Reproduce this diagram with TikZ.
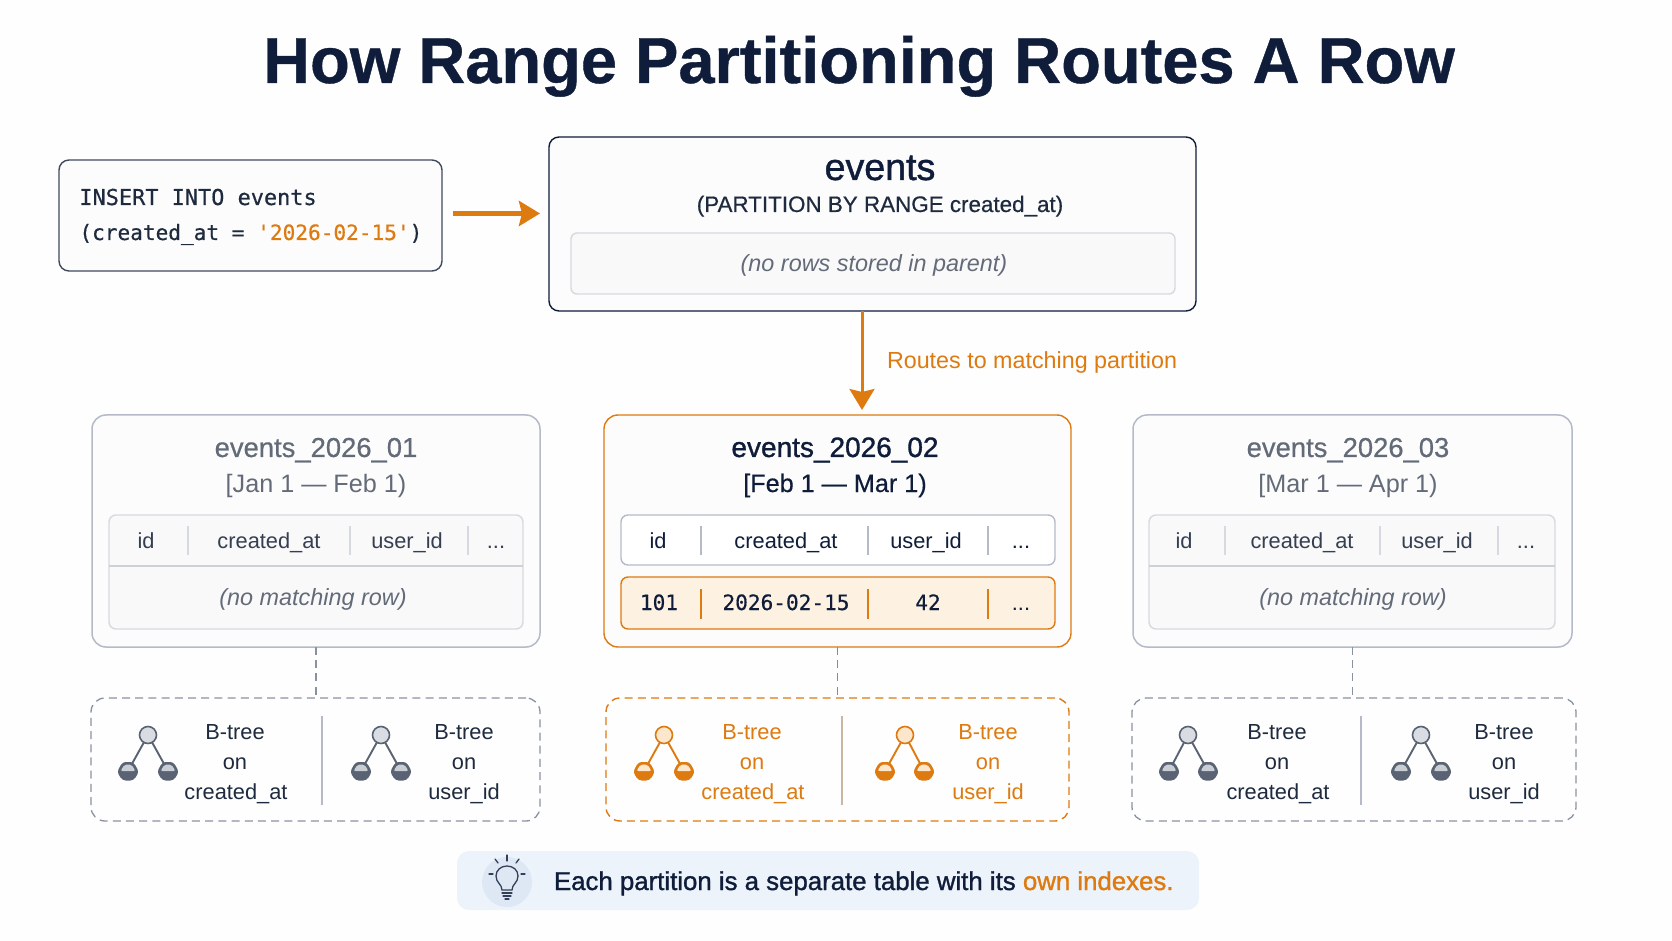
\documentclass[tikz,border=0pt]{standalone}
\usepackage{fontspec}
\usetikzlibrary{arrows.meta,shapes.geometric}
\setmainfont{Liberation Sans}
\newfontfamily\medfont[FakeBold=1.2]{Liberation Sans}
\newfontfamily\lightbold[FakeBold=0.5]{Liberation Sans}
\newfontfamily\titlefont[UprightFont=* Bold,FakeBold=0.6]{Liberation Sans}
\newfontfamily\codefont[FakeBold=0.5]{DejaVu Sans Mono}
\definecolor{navy}{HTML}{0F1D3A}
\definecolor{ink}{HTML}{1E2A3E}
\definecolor{orng}{HTML}{DD7A10}
\definecolor{mute}{HTML}{636B78}
\definecolor{edge}{HTML}{B4BAC8}
\definecolor{soft}{HTML}{D6D9DF}
\definecolor{dash}{HTML}{8A92A2}
\definecolor{page}{HTML}{FEFEFE}
\definecolor{panel}{HTML}{FCFCFD}
\definecolor{well}{HTML}{F9F9FA}
\definecolor{rowfill}{HTML}{FDF2E2}
\definecolor{callout}{HTML}{EDF3FA}
\definecolor{halo}{HTML}{DDE8F4}
\definecolor{darkleaf}{HTML}{5A6373}
\definecolor{lightleaf}{HTML}{C9CDD4}
\definecolor{rootgray}{HTML}{D9DCE2}
\definecolor{rootorng}{HTML}{FCE6CC}
\definecolor{sepo}{HTML}{C9B6A4}
\tikzset{
  x=0.5pt,y=-0.5pt,
  rbox/.style={rectangle,inner sep=0pt,outer sep=0pt,rounded corners=#1},
  rbox/.default=5pt,
  sqlbox/.style={rbox=5pt,draw=ink!85,line width=0.7pt,fill=panel},
  parent/.style={rbox=5pt,draw=navy,line width=0.7pt,fill=panel},
  parentwell/.style={rbox=3pt,draw=soft,line width=0.7pt,fill=well},
  partdim/.style={rbox=7pt,draw=edge,line width=0.75pt,fill=panel},
  parthot/.style={rbox=7pt,draw=orng,line width=0.7pt,fill=panel},
  tabdim/.style={rbox=3.5pt,draw=soft,line width=0.7pt,fill=well},
  tabhead/.style={rbox=3.5pt,draw=edge,line width=0.7pt,fill=white},
  tabrow/.style={rbox=3.5pt,draw=orng,line width=0.7pt,fill=rowfill},
  idxdim/.style={rbox=7pt,draw=dash,line width=0.65pt,dash pattern=on 4pt off 2.6pt},
  idxhot/.style={rbox=7pt,draw=orng,line width=0.7pt,dash pattern=on 4pt off 2.6pt},
  linkdim/.style={draw=dash,line width=0.65pt,dash pattern=on 4pt off 2.6pt},
  linkhot/.style={draw=orng,line width=0.8pt,dash pattern=on 4pt off 2.6pt},
  flowbold/.style={draw=orng,line width=2.2pt,-{Stealth[length=10.5pt,width=12.5pt,inset=1.5pt]}},
  flowthin/.style={draw=orng,line width=1.5pt,-{Stealth[length=10.5pt,width=12.5pt,inset=1.5pt]}},
  lbl/.style={inner sep=0pt,outer sep=0pt,anchor=base,align=center},
  hdrdim/.style={lbl,text=ink!90,font=\fontsize{10.9}{13}\selectfont},
  parttitle/.style={lbl,text=mute,font=\lightbold\fontsize{13.7}{16}\selectfont},
  partrange/.style={lbl,text=mute,font=\fontsize{12.6}{15}\selectfont},
  emptylbl/.style={lbl,text=mute,font=\fontsize{11.7}{13}\itshape},
  idxlbl/.style={lbl,text=ink,font=\fontsize{10.9}{13}\selectfont},
  idxlblhot/.style={lbl,text=orng,font=\fontsize{10.9}{13}\selectfont},
}
% name, style, x0, y0, x1, y1
\newcommand{\panelbox}[6]{\node[#2,anchor=north west,minimum width={(#5-#3)*0.5pt},minimum height={(#6-#4)*0.5pt}] (#1) at (#3,#4) {};}
% x, y0, y1, colour
\newcommand{\colrule}[4]{\draw[#4,line width=0.7pt] (#1,#2) -- (#1,#3);}
\newcommand{\leafshape}[3]{%
  \begin{scope}[shift={(#1,771)}]
    \fill[#3,rounded corners=1.6pt] (-11,1) -- (-5.5,-9) -- (5.5,-9) -- (11,1) -- (5.5,9.5) -- (-5.5,9.5) -- cycle;
    \fill[#2,rounded corners=1pt] (-7.5,0) -- (-3.5,-6.5) -- (3.5,-6.5) -- (7.5,0) -- cycle;
  \end{scope}}
% name, rootx, leftx, rightx, line, rootfill, lightcap, dark
\newcommand{\treeicon}[8]{%
  \coordinate (#1l) at (#3,771);
  \coordinate (#1r) at (#4,771);
  \node[circle,draw=#5,fill=#6,line width=0.8pt,minimum size=8.5pt,inner sep=0pt,outer sep=0pt] (#1root) at (#2,735) {};
  \draw[#5,line width=0.95pt] (#1root) -- (#1l);
  \draw[#5,line width=0.95pt] (#1root) -- (#1r);
  \leafshape{#3}{#7}{#8}
  \leafshape{#4}{#7}{#8}
}
\begin{document}
\begin{tikzpicture}
\useasboundingbox (0,0) rectangle (1672,941);
\fill[page] (0,0) rectangle (1672,941);

% Title
\node[lbl,text=navy,font=\titlefont\fontsize{32.5}{40}\selectfont] (title) at (859,83) {How Range Partitioning Routes A Row};

% Insert statement
\panelbox{insert}{sqlbox}{59}{160}{442}{271}
\node[inner sep=0pt,anchor=base west,text=ink,font=\codefont\fontsize{10.95}{13}\selectfont] (sql1) at (79,205) {INSERT INTO events};
\node[inner sep=0pt,anchor=base west,text=ink,font=\codefont\fontsize{10.55}{13}\selectfont] (sql2) at (79,240) {(created\_at = \textcolor{orng}{'2026-02-15'})};

% Parent table
\panelbox{events}{parent}{549}{137}{1196}{311}
\panelbox{parentwell}{parentwell}{571}{233}{1175}{294}
\node[lbl,text=navy,font=\medfont\fontsize{18.8}{21}\selectfont] (evt) at (880,180) {events};
\node[lbl,text=ink,font=\lightbold\fontsize{11.2}{14}\selectfont] (evtsub) at (880,212) {(PARTITION BY RANGE created\_at)};
\node[lbl,text=mute,font=\fontsize{11.7}{14}\itshape] (evtempty) at (874,272) {(no rows stored in parent)};

\draw[flowbold] ([xshift=5.5pt,yshift=1pt]insert.east) -- ([xshift=-4.5pt,yshift=5.25pt]events.west);

% Partitions
\panelbox{pa}{partdim}{92}{415}{540}{647}
\panelbox{pb}{parthot}{604}{415}{1071}{647}
\panelbox{pc}{partdim}{1133}{415}{1572}{647}

\draw[flowthin] ([xshift=-5.25pt]events.south) -- ([xshift=12.25pt,yshift=2.5pt]pb.north);
\node[lbl,anchor=base west,text=orng,font=\fontsize{11.65}{14}\selectfont] (routes) at (887,369) {Routes to matching partition};

% Partition 1
\node[parttitle] (pat) at (316,457) {events\_2026\_01};
\node[partrange] (par) at (316,492) {[Jan 1 — Feb 1)};
\panelbox{ta}{tabdim}{109}{515}{523}{629}
\draw[soft!70!edge,line width=0.7pt] (ta.west |- 0,566) -- (ta.east |- 0,566);
\colrule{188}{526}{555}{soft}
\colrule{350}{526}{555}{soft}
\colrule{468}{526}{555}{soft}
\node[hdrdim] (ah1) at (146,548) {id};
\node[hdrdim] (ah2) at (269,548) {created\_at};
\node[hdrdim] (ah3) at (407,548) {user\_id};
\node[hdrdim] (ah4) at (496,548) {...};
\node[emptylbl] (ae) at (313,605) {(no matching row)};

% Partition 2
\node[lbl,text=navy,font=\medfont\fontsize{14}{16}\selectfont] (pbt) at (835,457) {events\_2026\_02};
\node[lbl,text=navy,font=\lightbold\fontsize{12.6}{15}\selectfont] (pbr) at (835,492) {[Feb 1 — Mar 1)};
\panelbox{tbh}{tabhead}{621}{515}{1055}{565}
\panelbox{tbr}{tabrow}{621}{577}{1055}{629}
\colrule{701}{526}{555}{edge}
\colrule{868}{526}{555}{edge}
\colrule{988}{526}{555}{edge}
\colrule{701}{589}{619}{orng}
\colrule{868}{589}{619}{orng}
\colrule{988}{589}{619}{orng}
\node[hdrdim,text=navy] (bh1) at (658,548) {id};
\node[hdrdim,text=navy] (bh2) at (786,548) {created\_at};
\node[hdrdim,text=navy] (bh3) at (926,548) {user\_id};
\node[hdrdim,text=navy] (bh4) at (1021,548) {...};
\node[lbl,text=navy,font=\codefont\fontsize{10.55}{13}\selectfont] (bv1) at (659,610) {101};
\node[lbl,text=navy,font=\codefont\fontsize{10.55}{13}\selectfont] (bv2) at (786,610) {2026-02-15};
\node[lbl,text=navy,font=\codefont\fontsize{10.55}{13}\selectfont] (bv3) at (928,610) {42};
\node[hdrdim,text=navy] (bv4) at (1021,610) {...};

% Partition 3
\node[parttitle] (pct) at (1348,457) {events\_2026\_03};
\node[partrange] (pcr) at (1348,492) {[Mar 1 — Apr 1)};
\panelbox{tc}{tabdim}{1149}{515}{1555}{629}
\draw[soft!70!edge,line width=0.7pt] (tc.west |- 0,566) -- (tc.east |- 0,566);
\colrule{1225}{526}{555}{soft}
\colrule{1380}{526}{555}{soft}
\colrule{1498}{526}{555}{soft}
\node[hdrdim] (ch1) at (1184,548) {id};
\node[hdrdim] (ch2) at (1302,548) {created\_at};
\node[hdrdim] (ch3) at (1437,548) {user\_id};
\node[hdrdim] (ch4) at (1526,548) {...};
\node[emptylbl] (ce) at (1353,605) {(no matching row)};

% Index groups
\panelbox{ia}{idxdim}{91}{698}{540}{821}
\panelbox{ib}{idxhot}{606}{698}{1069}{821}
\panelbox{ic}{idxdim}{1132}{698}{1576}{821}
\draw[linkdim] (pa.south) -- (pa.south |- ia.north);
\draw[linkhot] (pb.south) -- (pb.south |- ib.north);
\draw[linkdim] (pc.south) -- (pc.south |- ic.north);

\colrule{322}{716}{805}{edge}
\colrule{842}{716}{805}{sepo}
\colrule{1361}{716}{805}{edge}

\treeicon{ta1}{148}{128}{168}{darkleaf}{rootgray}{lightleaf}{darkleaf}
\treeicon{ta2}{381}{361}{401}{darkleaf}{rootgray}{lightleaf}{darkleaf}
\treeicon{tb1}{664}{644}{684}{orng}{rootorng}{rootorng}{orng}
\treeicon{tb2}{905}{885}{924}{orng}{rootorng}{rootorng}{orng}
\treeicon{tc1}{1188}{1169}{1208}{darkleaf}{rootgray}{lightleaf}{darkleaf}
\treeicon{tc2}{1421}{1401}{1441}{darkleaf}{rootgray}{lightleaf}{darkleaf}

\node[idxlbl] (ia1) at (235,739) {B-tree};
\node[idxlbl] (ia2) at (235,769) {on};
\node[idxlbl] (ia3) at (236,799) {created\_at};
\node[idxlbl] (ia4) at (464,739) {B-tree};
\node[idxlbl] (ia5) at (464,769) {on};
\node[idxlbl] (ia6) at (464,799) {user\_id};

\node[idxlblhot] (ib1) at (752,739) {B-tree};
\node[idxlblhot] (ib2) at (752,769) {on};
\node[idxlblhot] (ib3) at (753,799) {created\_at};
\node[idxlblhot] (ib4) at (988,739) {B-tree};
\node[idxlblhot] (ib5) at (988,769) {on};
\node[idxlblhot] (ib6) at (988,799) {user\_id};

\node[idxlbl] (ic1) at (1277,739) {B-tree};
\node[idxlbl] (ic2) at (1277,769) {on};
\node[idxlbl] (ic3) at (1278,799) {created\_at};
\node[idxlbl] (ic4) at (1504,739) {B-tree};
\node[idxlbl] (ic5) at (1504,769) {on};
\node[idxlbl] (ic6) at (1504,799) {user\_id};

% Callout
\panelbox{note}{rbox=6pt,fill=callout}{457}{851}{1199}{910}
\node[circle,fill=halo,minimum size=25pt,inner sep=0pt] (bulbhalo) at (507,882) {};
\begin{scope}[shift={(507,882)},draw=navy!85,line width=0.65pt,line cap=round]
  \draw (-5,8) .. controls (-5,2) and (-11,1) .. (-11,-6) .. controls (-11,-12) and (-6,-16) .. (0,-16) .. controls (6,-16) and (11,-12) .. (11,-6) .. controls (11,1) and (5,2) .. (5,8) -- cycle;
  \draw (-5,11) -- (5,11);
  \draw (-4,14) -- (4,14);
  \draw (-2,17) -- (2,17);
  \draw (0,-27) -- (0,-21);
  \draw (-12,-23) -- (-9,-19);
  \draw (12,-23) -- (9,-19);
  \draw (-18,-8) -- (-14,-8);
  \draw (18,-8) -- (14,-8);
\end{scope}
\node[lbl,anchor=base west,text=navy,font=\medfont\fontsize{12.9}{15}\selectfont] (notetext) at (554,890) {Each partition is a separate table with its \textcolor{orng}{own indexes.}};
\end{tikzpicture}
\end{document}
